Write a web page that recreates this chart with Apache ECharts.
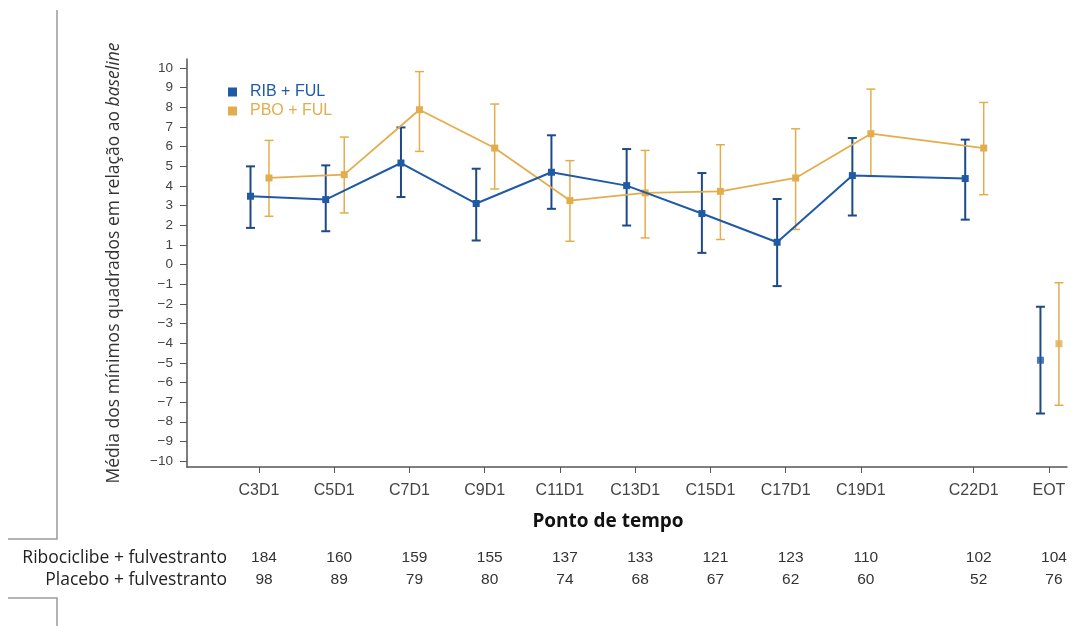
<!DOCTYPE html>
<html>
<head>
<meta charset="utf-8">
<script src="https://cdn.jsdelivr.net/npm/echarts@6/dist/echarts.min.js"></script>
<style>html,body{margin:0;padding:0;background:#fff;}#c{width:1073px;height:626px;}</style>
</head>
<body>
<div id="c"></div>
<script>
// ---- data ----
const categories = ['C3D1','C5D1','C7D1','C9D1','C11D1','C13D1','C15D1','C17D1','C19D1','C22D1','EOT'];
const visitCycle = [3,5,7,9,11,13,15,17,19,22,24];
const ribMean  = [3.47,3.30,5.16,3.10,4.69,4.01,2.59,1.13,4.52,4.37,-4.87];
const ribUpper = [4.99,5.04,6.97,4.87,6.57,5.87,4.65,3.33,6.43,6.35,-2.15];
const ribLower = [1.86,1.69,3.43,1.22,2.83,1.98,0.59,-1.10,2.49,2.28,-7.58];
const pboMean  = [4.40,4.57,7.87,5.92,3.25,3.64,3.72,4.40,6.65,5.92,-4.03];
const pboUpper = [6.31,6.48,9.81,8.16,5.28,5.80,6.09,6.90,8.92,8.24,-0.93];
const pboLower = [2.45,2.62,5.75,3.84,1.18,1.35,1.27,1.78,4.48,3.55,-7.16];
const ribN = [184,160,159,155,137,133,121,123,110,102,104];
const pboN = [98,89,79,80,74,68,67,62,60,52,76];
const yTicks = [-10,-9,-8,-7,-6,-5,-4,-3,-2,-1,0,1,2,3,4,5,6,7,8,9,10];
const seriesNames = ['RIB + FUL','PBO + FUL'];
const rowNames = ['Ribociclibe + fulvestranto','Placebo + fulvestranto'];

// ---- layout / style ----
const BLUE = '#1f5aa6', BLUE_DARK = '#1d4a86', GOLD = '#e3ad4d';
const GRID = {left:187, top:59, right:6, bottom:159};
const X_MIN = 1.086, X_MAX = 24.48;
const Y_MIN = -10.3, Y_MAX = 10.45;
const pxPerUnit = (1073 - GRID.left - GRID.right) / (X_MAX - X_MIN);
const OFF_RIB = -8.5 / pxPerUnit, OFF_PBO = 10 / pxPerUnit;
const NCONN = categories.length - 1; // EOT is not connected

function pts(mean, off, from, to){
  const out=[]; for(let i=from;i<to;i++) out.push([visitCycle[i]+off, mean[i]]); return out;
}
function errs(up, lo, off){
  return visitCycle.map((c,i)=>[c+off, up[i], lo[i]]);
}
function errRender(color, w){
  return function(params, api){
    const x=api.value(0), hi=api.value(1), lo=api.value(2);
    const a=api.coord([x,hi]), b=api.coord([x,lo]);
    const cap=4.5;
    const st={stroke:color, lineWidth:w};
    return {type:'group', children:[
      {type:'line', shape:{x1:a[0],y1:a[1],x2:b[0],y2:b[1]}, style:st},
      {type:'line', shape:{x1:a[0]-cap,y1:a[1],x2:a[0]+cap,y2:a[1]}, style:st},
      {type:'line', shape:{x1:b[0]-cap,y1:b[1],x2:b[0]+cap,y2:b[1]}, style:st}
    ]};
  };
}

const chart = echarts.init(document.getElementById('c'), null, {renderer:'canvas'});
const labelFont = 'Liberation Sans';
const option = {
  animation:false,
  backgroundColor:'#fff',
  grid:GRID,
  legend:{
    orient:'vertical', left:223, top:79, itemGap:3, itemWidth:9, itemHeight:9,
    icon:'rect',
    data:[
      {name:seriesNames[0], textStyle:{color:BLUE}},
      {name:seriesNames[1], textStyle:{color:GOLD}}
    ],
    textStyle:{fontFamily:labelFont, fontSize:16, padding:[0,0,0,8]}
  },
  xAxis:{
    type:'value', min:X_MIN, max:X_MAX,
    splitLine:{show:false},
    axisLine:{onZero:false, lineStyle:{color:'#555', width:1.5}},
    axisTick:{customValues:visitCycle, length:6, lineStyle:{color:'#555'}},
    axisLabel:{customValues:visitCycle, margin:16, color:'#444', fontFamily:labelFont, fontSize:16,
      formatter:v=>categories[visitCycle.indexOf(Math.round(v))] || ''}
  },
  yAxis:{
    type:'value', min:Y_MIN, max:Y_MAX,
    splitLine:{show:false},
    axisLine:{show:true, onZero:false, lineStyle:{color:'#555', width:1.5}},
    axisTick:{show:true, customValues:yTicks, length:7, lineStyle:{color:'#555'}},
    axisLabel:{customValues:yTicks, margin:14, color:'#444', fontFamily:labelFont, fontSize:13.5,
      formatter:v=>{const r=Math.round(v); return r<0?'\u2212'+Math.abs(r):String(r);}},
    name:'{a|Média dos mínimos quadrados em relação ao }{b|baseline}',
    nameLocation:'middle', nameRotate:90, nameGap:64,
    nameTextStyle:{rich:{
      a:{fontFamily:'Open Sans', fontSize:17.5, color:'#333'},
      b:{fontFamily:'Open Sans', fontSize:17.5, color:'#333', fontStyle:'italic'}
    }}
  },
  series:[
    {name:'errRib', type:'custom', renderItem:errRender(BLUE_DARK,2), data:errs(ribUpper,ribLower,OFF_RIB), encode:{x:0,y:[1,2]}, z:2},
    {name:'errPbo', type:'custom', renderItem:errRender(GOLD,1.5), data:errs(pboUpper,pboLower,OFF_PBO), encode:{x:0,y:[1,2]}, z:2},
    {name:seriesNames[1], type:'line', data:pts(pboMean,OFF_PBO,0,NCONN), color:GOLD, symbol:'rect', symbolSize:7,
      lineStyle:{width:1.8, color:GOLD}, itemStyle:{color:GOLD}, z:3},
    {name:seriesNames[1], type:'scatter', data:pts(pboMean,OFF_PBO,NCONN,categories.length), symbol:'rect', symbolSize:7,
      itemStyle:{color:GOLD}, z:3},
    {name:seriesNames[0], type:'line', data:pts(ribMean,OFF_RIB,0,NCONN), color:BLUE, symbol:'rect', symbolSize:7,
      lineStyle:{width:2, color:BLUE}, itemStyle:{color:BLUE}, z:4},
    {name:seriesNames[0], type:'scatter', data:pts(ribMean,OFF_RIB,NCONN,categories.length), symbol:'rect', symbolSize:7,
      itemStyle:{color:BLUE}, z:4}
  ]
};
chart.setOption(option);

// table + decorations
const g = [];
g.push({type:'text', style:{text:'Ponto de tempo', x:608, y:522, align:'center', verticalAlign:'middle',
  font:'bold 19px "Open Sans"', fill:'#111'}});
const rowY = [558, 580];
[ribN, pboN].forEach((arr, r)=>{
  g.push({type:'text', style:{text:rowNames[r], x:227, y:rowY[r], align:'right', verticalAlign:'middle',
    font:'17.5px "Open Sans"', fill:'#222'}});
  arr.forEach((n,i)=>{
    const x = chart.convertToPixel({xAxisIndex:0}, visitCycle[i]) + 5;
    g.push({type:'text', style:{text:String(n), x:x, y:rowY[r], align:'center', verticalAlign:'middle',
      font:'15.5px "Liberation Sans"', fill:'#333'}});
  });
});
g.push({type:'polyline', shape:{points:[[57,10],[57,539],[8,539]]}, style:{stroke:'#9a9a9a', lineWidth:1.5, fill:null}});
g.push({type:'polyline', shape:{points:[[8,598],[57,598],[57,626]]}, style:{stroke:'#9a9a9a', lineWidth:1.5, fill:null}});
chart.setOption({graphic:g});
</script>
</body>
</html>
